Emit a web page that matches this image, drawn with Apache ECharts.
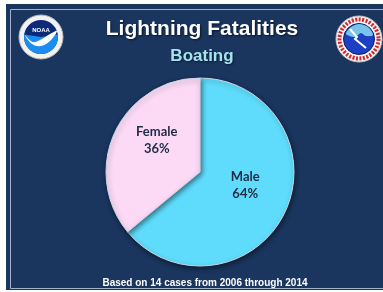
<!DOCTYPE html>
<html>
<head>
<meta charset="utf-8">
<script src="https://cdn.jsdelivr.net/npm/echarts@6/dist/echarts.min.js"></script>
<style>
  html, body { margin: 0; padding: 0; background: #fff; }
  #chart { width: 383px; height: 292px; }
</style>
</head>
<body>
<div id="chart"></div>
<script>
const categories = ['Male', 'Female'];
const shares = [64, 36];
const titleText = 'Lightning Fatalities';
const subtitleText = 'Boating';
const footnote = 'Based on 14 cases from 2006 through 2014';

const chart = echarts.init(document.getElementById('chart'));

// logos are drawn roughly with shapes, they are pictures in the original
const noaaLogo = {
  type: 'group', x: 41, y: 37,
  children: [
    { type: 'circle', shape: { r: 22 }, style: { fill: '#f2f2f2', stroke: '#b9b9b9', lineWidth: 1 } },
    { type: 'circle', shape: { r: 17 }, style: { fill: '#0c2a78' } },
    { type: 'sector', shape: { r: 17, startAngle: -0.15, endAngle: Math.PI + 0.15 }, style: { fill: '#1b8cf0' } },
    { type: 'polygon', shape: { points: [[-16, -2], [-8, 5], [1, 2], [9, -3], [16, -6], [9, 4], [0, 9], [-9, 7]], smooth: 0.4 }, style: { fill: '#ffffff' } },
    { type: 'text', style: { text: 'NOAA', x: 0, y: -7, align: 'center', verticalAlign: 'middle', fill: '#ffffff', font: 'bold 6px "Liberation Sans"' } }
  ]
};

const nwsLogo = {
  type: 'group', x: 359, y: 39,
  children: [
    { type: 'circle', shape: { r: 23 }, style: { fill: '#f5f5f5', stroke: '#c4c4c4', lineWidth: 1 } },
    { type: 'circle', shape: { r: 19.5 }, style: { fill: 'none', stroke: '#d8262c', lineWidth: 4, lineDash: [2, 1.5] } },
    { type: 'circle', shape: { r: 15.5 }, style: { fill: '#1c3fc4', stroke: '#0d1f66', lineWidth: 1 } },
    { type: 'polygon', shape: { points: [[-13, -5], [-8, -12], [0, -15], [9, -12], [14, -4], [7, -3], [2, -6], [-4, -2]], smooth: 0.3 }, style: { fill: '#79c3ea' } },
    { type: 'polyline', shape: { points: [[-9, -10], [-2, -2], [-4, 0], [7, 9]] }, style: { stroke: '#ffffff', lineWidth: 2, fill: 'none' } }
  ]
};

chart.setOption({
  backgroundColor: '#ffffff',
  title: [
    {
      text: titleText,
      left: 197, top: 14, textAlign: 'center',
      textStyle: {
        color: '#ffffff', fontSize: 21, fontWeight: 'bold', fontFamily: 'Liberation Sans',
        textShadowColor: 'rgba(0,0,0,0.6)', textShadowBlur: 2, textShadowOffsetX: 1, textShadowOffsetY: 1
      }
    },
    {
      text: subtitleText,
      left: 197, top: 43, textAlign: 'center',
      textStyle: {
        color: '#a6e3f0', fontSize: 17, fontWeight: 'bold', fontFamily: 'Liberation Sans',
        textShadowColor: 'rgba(0,0,0,0.5)', textShadowBlur: 2, textShadowOffsetX: 1, textShadowOffsetY: 1
      }
    },
    {
      text: footnote,
      left: 200, top: 273, textAlign: 'center',
      textStyle: { color: '#ffffff', fontSize: 10, fontWeight: 'bold', fontFamily: 'Liberation Sans' }
    }
  ],
  graphic: [
    { type: 'rect', z: -10, shape: { x: 6, y: 4, width: 377, height: 286 }, style: { fill: '#1a355e' } },
    { type: 'rect', z: -9, shape: { x: 10.5, y: 9.5, width: 390, height: 279 }, style: { fill: 'none', stroke: '#9fb3cc', lineWidth: 1 } },
    noaaLogo,
    nwsLogo
  ],
  series: [
    {
      type: 'pie',
      center: [200, 172],
      radius: 94,
      startAngle: 90,
      clockwise: true,
      animation: false,
      label: {
        show: true,
        position: 'inside',
        formatter: '{b}\n{c}%',
        color: '#1f2b45',
        fontSize: 13,
        fontWeight: 'bold',
        fontFamily: 'Lato',
        lineHeight: 17
      },
      labelLayout: function (p) {
        return p.dataIndex === 0 ? { dy: -8 } : { dx: 2, dy: -10 };
      },
      labelLine: { show: false },
      itemStyle: {
        borderColor: '#c9d6e6',
        borderWidth: 1,
        shadowColor: 'rgba(0,0,0,0.45)',
        shadowBlur: 5,
        shadowOffsetX: 1,
        shadowOffsetY: 2
      },
      emphasis: { disabled: true },
      data: categories.map((name, i) => ({
        name: name,
        value: shares[i],
        itemStyle: { color: i === 0 ? '#5fdcfc' : '#fcdaf6' }
      }))
    }
  ]
});
</script>
</body>
</html>
